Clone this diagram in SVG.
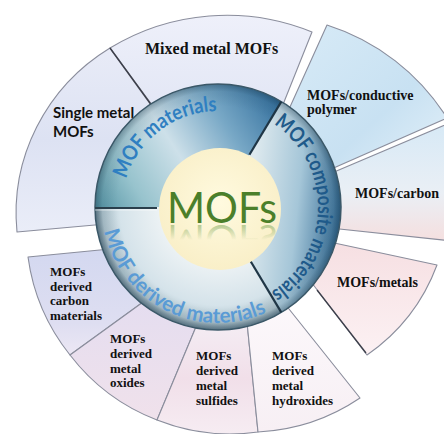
<svg xmlns="http://www.w3.org/2000/svg" width="444" height="434" viewBox="0 0 444 434">
<defs>
<style>
.seg{stroke:#8a8d9c;stroke-width:1.1;stroke-linejoin:round}
.lbl{font-family:"Liberation Serif","Times New Roman",serif;font-weight:bold;fill:#111}
.lbl14{font-size:14px}
.lbl13{font-size:13px}
.sans{font-family:Lato,"Liberation Sans",Arial,sans-serif;font-weight:bold;font-size:15px;fill:#111}
.ring{font-family:Lato,"Open Sans","Liberation Sans",sans-serif;font-size:21px;font-weight:bold}
</style>
<linearGradient id="gSingle" x1="0" y1="0" x2="0" y2="1"><stop offset="0" stop-color="#e8ebf7"/><stop offset="0.5" stop-color="#dde2f3"/><stop offset="1" stop-color="#eaedf8"/></linearGradient>
<linearGradient id="gMixed" x1="0" y1="0" x2="0" y2="1"><stop offset="0" stop-color="#eef0fa"/><stop offset="1" stop-color="#e2e6f5"/></linearGradient>
<linearGradient id="gCond" x1="0" y1="0" x2="1" y2="1"><stop offset="0" stop-color="#d8ebf7"/><stop offset="0.6" stop-color="#c8e1f2"/><stop offset="1" stop-color="#e5f1f9"/></linearGradient>
<linearGradient id="gCarb" x1="0" y1="0" x2="0" y2="1"><stop offset="0" stop-color="#d6e9f6"/><stop offset="0.6" stop-color="#eaeff5"/><stop offset="1" stop-color="#f5dfdf"/></linearGradient>
<linearGradient id="gMet" x1="0" y1="0" x2="0" y2="1"><stop offset="0" stop-color="#f6dfe2"/><stop offset="1" stop-color="#fcf1f3"/></linearGradient>
<linearGradient id="gDC" x1="0" y1="0" x2="0" y2="1"><stop offset="0" stop-color="#d3d8f0"/><stop offset="0.7" stop-color="#dedef1"/><stop offset="1" stop-color="#ece7f4"/></linearGradient>
<linearGradient id="gOx" x1="0" y1="0" x2="0" y2="1"><stop offset="0" stop-color="#e4ddf0"/><stop offset="1" stop-color="#f0e1eb"/></linearGradient>
<linearGradient id="gSul" x1="0" y1="0" x2="0" y2="1"><stop offset="0" stop-color="#f4edf4"/><stop offset="0.5" stop-color="#f1dfe9"/><stop offset="1" stop-color="#f6ecf2"/></linearGradient>
<linearGradient id="gHyd" x1="0" y1="0" x2="0" y2="1"><stop offset="0" stop-color="#fcf8fb"/><stop offset="1" stop-color="#f7eff4"/></linearGradient>
<linearGradient id="gMat" gradientUnits="userSpaceOnUse" x1="285" y1="95" x2="100" y2="215"><stop offset="0" stop-color="#2a6898"/><stop offset="0.3" stop-color="#78a8c6"/><stop offset="0.55" stop-color="#cde0e9"/><stop offset="0.8" stop-color="#97c3cd"/><stop offset="1" stop-color="#5595a5"/></linearGradient>
<linearGradient id="gComp" gradientUnits="userSpaceOnUse" x1="250" y1="200" x2="345" y2="210"><stop offset="0" stop-color="#dde9ee"/><stop offset="0.5" stop-color="#a5c6d8"/><stop offset="1" stop-color="#2b6590"/></linearGradient>
<radialGradient id="gDer" gradientUnits="userSpaceOnUse" cx="218" cy="207" r="123"><stop offset="0.45" stop-color="#eef3f5"/><stop offset="0.8" stop-color="#d5e3ea"/><stop offset="0.94" stop-color="#b0c5ce"/><stop offset="1" stop-color="#8199a5"/></radialGradient>
<radialGradient id="gRim" gradientUnits="userSpaceOnUse" cx="218" cy="207" r="123"><stop offset="0.82" stop-color="#143246" stop-opacity="0"/><stop offset="0.94" stop-color="#143246" stop-opacity="0.1"/><stop offset="1" stop-color="#143246" stop-opacity="0.4"/></radialGradient>
<radialGradient id="gCream" cx="0.5" cy="0.45" r="0.55"><stop offset="0" stop-color="#fffadf"/><stop offset="1" stop-color="#f9efc8"/></radialGradient>
<linearGradient id="gRefl" gradientUnits="userSpaceOnUse" x1="0" y1="223" x2="0" y2="208"><stop offset="0" stop-color="#4f8a2e" stop-opacity="0.4"/><stop offset="1" stop-color="#4f8a2e" stop-opacity="0"/></linearGradient>
<path id="pMat" d="M126.2,178.9 A96 96 0 0 1 301.1,159"/>
<path id="pComp" d="M273.9,124.1 A100 100 0 0 1 243.9,303.6"/>
<path id="pDer" d="M104.5,231.1 A116 116 0 0 0 313,273.5"/>
</defs>
<rect width="444" height="434" fill="#ffffff"/>

<g id="single-metal">
<path class="seg" fill="url(#gSingle)" d="M106,224 L17,232 A200 195 0 0 1 110,48 L158,113 Z"/>
<text class="sans" x="53" y="118">Single metal</text>
<text class="sans" x="53" y="137">MOFs</text>
</g>
<g id="mixed-metal">
<path class="seg" fill="url(#gMixed)" d="M158,113 L110,48 A225 225 0 0 1 312,32 L280,112 Z"/>
<path d="M110,48 L152,106" stroke="#3c3f4a" stroke-width="1.5" fill="none"/>
<text class="lbl" font-size="16" x="145" y="54">Mixed metal MOFs</text>
</g>
<g id="mofs-conductive-polymer">
<path class="seg" fill="url(#gCond)" d="M285,118 L327,25 A220 220 0 0 1 447,118 L320,174 Z"/>
<text class="lbl lbl14" x="307" y="100">MOFs/conductive</text>
<text class="lbl lbl14" x="307" y="114">polymer</text>
</g>
<g id="mofs-carbon">
<path class="seg" fill="url(#gCarb)" d="M320,178 L452,122 A220 220 0 0 1 452,241 L330,228 Z"/>
<text class="lbl lbl14" x="355" y="198">MOFs/carbon</text>
</g>
<g id="mofs-metals">
<path class="seg" fill="url(#gMet)" d="M325,241 L437,265 A190 190 0 0 1 367,355 L305,274 Z"/>
<path d="M317,290 L366,353" stroke="#3c3f4a" stroke-width="1.3" fill="none"/>
<text class="lbl lbl14" x="337" y="287">MOFs/metals</text>
</g>
<g id="derived-carbon">
<path class="seg" fill="url(#gDC)" d="M110,249 L28,257 A200 200 0 0 0 70,355 L150,297 Z"/>
<text class="lbl lbl13" x="50" y="276">MOFs</text>
<text class="lbl lbl13" x="50" y="291">derived</text>
<text class="lbl lbl13" x="50" y="305">carbon</text>
<text class="lbl lbl13" x="50" y="320">materials</text>
</g>
<g id="derived-oxides">
<path class="seg" fill="url(#gOx)" d="M150,297 L70,355 A200 200 0 0 0 157,420 L198,322 Z"/>
<text class="lbl lbl13" x="110" y="343">MOFs</text>
<text class="lbl lbl13" x="110" y="358">derived</text>
<text class="lbl lbl13" x="110" y="373">metal</text>
<text class="lbl lbl13" x="110" y="387">oxides</text>
</g>
<g id="derived-sulfides">
<path class="seg" fill="url(#gSul)" d="M198,322 L157,420 A200 200 0 0 0 258,432 L247,322 Z"/>
<text class="lbl lbl13" x="196" y="360">MOFs</text>
<text class="lbl lbl13" x="196" y="375">derived</text>
<text class="lbl lbl13" x="196" y="390">metal</text>
<text class="lbl lbl13" x="196" y="405">sulfides</text>
</g>
<g id="derived-hydroxides">
<path class="seg" fill="url(#gHyd)" d="M247,322 L258,432 A200 200 0 0 0 360,398 L285,304 Z"/>
<text class="lbl lbl13" x="272" y="360">MOFs</text>
<text class="lbl lbl13" x="272" y="375">derived</text>
<text class="lbl lbl13" x="272" y="390">metal</text>
<text class="lbl lbl13" x="272" y="405">hydroxides</text>
</g>

<g id="ring-mof-materials">
<path fill="url(#gMat)" d="M218,207 L95,207 A123 123 0 0 1 281.3,101.6 Z"/>
</g>
<g id="ring-mof-composite">
<path fill="url(#gComp)" d="M218,207 L281.3,101.6 A123 123 0 0 1 281.3,312.4 Z"/>
</g>
<g id="ring-mof-derived">
<path fill="url(#gDer)" d="M218,207 L281.3,312.4 A123 123 0 0 1 95,207 Z"/>
</g>
<g id="ring-rim">
<circle cx="218" cy="207" r="123" fill="url(#gRim)" stroke="#3b5868" stroke-width="1.5"/>
<path d="M95,208 L157,208" stroke="#2a3f4c" stroke-width="2.2"/>
<path d="M95,210 L157,210" stroke="#ffffff" stroke-opacity="0.6" stroke-width="1.2"/>
<path d="M281.3,101.6 L249.4,154.7" stroke="#1f3646" stroke-width="2.2"/>
<path d="M249.4,259.3 L281.3,312.4" stroke="#1f3646" stroke-width="2.2"/>
</g>
<g id="ring-labels">
<text class="ring" fill="#2f7fc1"><textPath href="#pMat" textLength="121" lengthAdjust="spacingAndGlyphs">MOF materials</textPath></text>
<text class="ring" fill="#1f5a8a"><textPath href="#pComp" textLength="199" lengthAdjust="spacingAndGlyphs">MOF composite materials</textPath></text>
<text class="ring" fill="#5a9bd5"><textPath href="#pDer" textLength="208" lengthAdjust="spacingAndGlyphs">MOF derived materials</textPath></text>
</g>
<g id="center-mofs">
<circle cx="220" cy="209" r="61" fill="url(#gCream)"/>
<text x="167" y="223" font-family="Lato,'Liberation Sans',sans-serif" font-size="43" fill="#4b7f2a" textLength="110" lengthAdjust="spacingAndGlyphs">MOFs</text>
<text x="167" y="223" transform="translate(0,448) scale(1,-1)" font-family="Lato,'Liberation Sans',sans-serif" font-size="43" fill="url(#gRefl)" textLength="110" lengthAdjust="spacingAndGlyphs">MOFs</text>
</g>
</svg>
